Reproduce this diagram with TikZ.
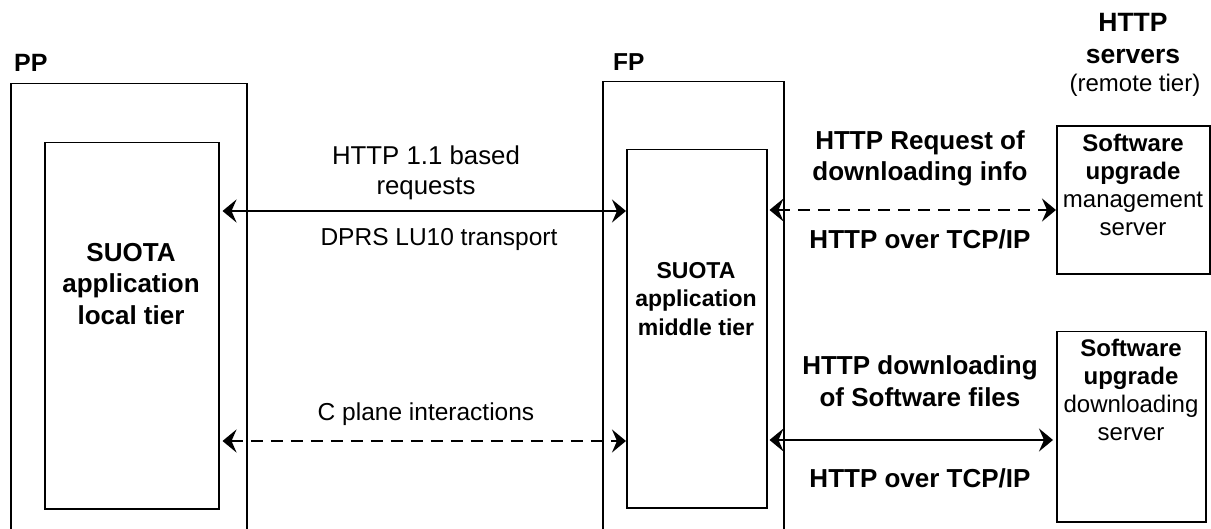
\documentclass[tikz,border=0pt]{standalone}
\usepackage{fontspec}
\setmainfont{Liberation Sans}
\usetikzlibrary{arrows.meta}
\begin{document}
\begin{tikzpicture}[x=1pt,y=-1pt,
  box/.style={draw, line width=1.5pt, inner sep=0pt, anchor=north west},
  tip/.tip={Stealth[length=14pt,width=23pt,inset=5pt]},
  conn/.style={line width=2.5pt, tip-tip},
  dashconn/.style={conn, dash pattern=on 12pt off 8pt},
  rtxt/.style={align=center, inner sep=0pt, font=\fontsize{24.5}{29.5}\selectfont},
  btxt/.style={align=center, inner sep=0pt, font=\fontsize{26}{31.5}\selectfont\bfseries},
]
\useasboundingbox (0,0) rectangle (1211,529);
\clip (0,0) rectangle (1211,529);

% boxes
\node[box, minimum width=236pt, minimum height=470pt] (pp) at (10,83) {};
\node[box, minimum width=174pt, minimum height=366pt] (ppin) at (44,142) {};
\node[box, minimum width=181pt, minimum height=470pt] (fp) at (602,81) {};
\node[box, minimum width=140pt, minimum height=358pt] (fpin) at (626,149) {};
\node[box, line width=1.8pt, minimum width=153pt, minimum height=148pt] (srv1) at (1056,125) {};
\node[box, minimum width=149pt, minimum height=190pt] (srv2) at (1056,331) {};

% titles
\node[btxt, font=\fontsize{25}{30}\selectfont\bfseries, anchor=west] (pplbl) at (14,63) {PP};
\node[btxt, font=\fontsize{24.5}{30}\selectfont\bfseries, anchor=west] (fplbl) at (613,62) {FP};
\node[btxt, font=\fontsize{26.5}{32}\selectfont\bfseries] (hdr) at (1133,39) {HTTP\\servers};
\node[rtxt, font=\fontsize{24}{28}\selectfont] (hdrsub) at (1135,85) {(remote tier)};

% box texts
\node[btxt] (pptxt) at (131,284) {SUOTA\\application\\local tier};
\node[btxt, font=\fontsize{23}{28.5}\selectfont\bfseries] (fptxt) at (696,299) {SUOTA\\application\\middle tier};
\node[rtxt, font=\fontsize{24}{28}\selectfont] (srv1txt) at (1133,185) {\textbf{Software}\\\textbf{upgrade}\\management\\server};
\node[rtxt, font=\fontsize{24}{28}\selectfont] (srv2txt) at (1131,390) {\textbf{Software}\\\textbf{upgrade}\\downloading\\server};

% connectors
\coordinate (ya) at (0,211);
\coordinate (yb) at (0,441);
\coordinate (yc) at (0,210);
\coordinate (yd) at (0,440);
\draw[conn, shorten <=3pt] (ppin.east |- ya) -- (fpin.west |- ya);
\draw[dashconn, shorten <=3pt] (ppin.east |- yb) -- (fpin.west |- yb);
\draw[dashconn, shorten <=2pt] (fpin.east |- yc) -- (srv1.west |- yc);
\draw[conn, shorten <=2pt, shorten >=3pt] (fpin.east |- yd) -- (srv2.west |- yd);

% connector labels
\node[rtxt, font=\fontsize{25.8}{29.5}\selectfont] (l1a) at (426,173) {HTTP 1.1 based\\requests};
\node[rtxt] (l1b) at (439,239.5) {DPRS LU10 transport};
\node[rtxt] (l2) at (426,414.5) {C plane interactions};
\node[btxt] (l3a) at (920,158.5) {HTTP Request of\\downloading info};
\node[btxt] (l3b) at (920,239) {HTTP over TCP/IP};
\node[btxt] (l4a) at (920,381) {HTTP downloading\\of Software files};
\node[btxt] (l4b) at (920,478) {HTTP over TCP/IP};
\end{tikzpicture}
\end{document}
